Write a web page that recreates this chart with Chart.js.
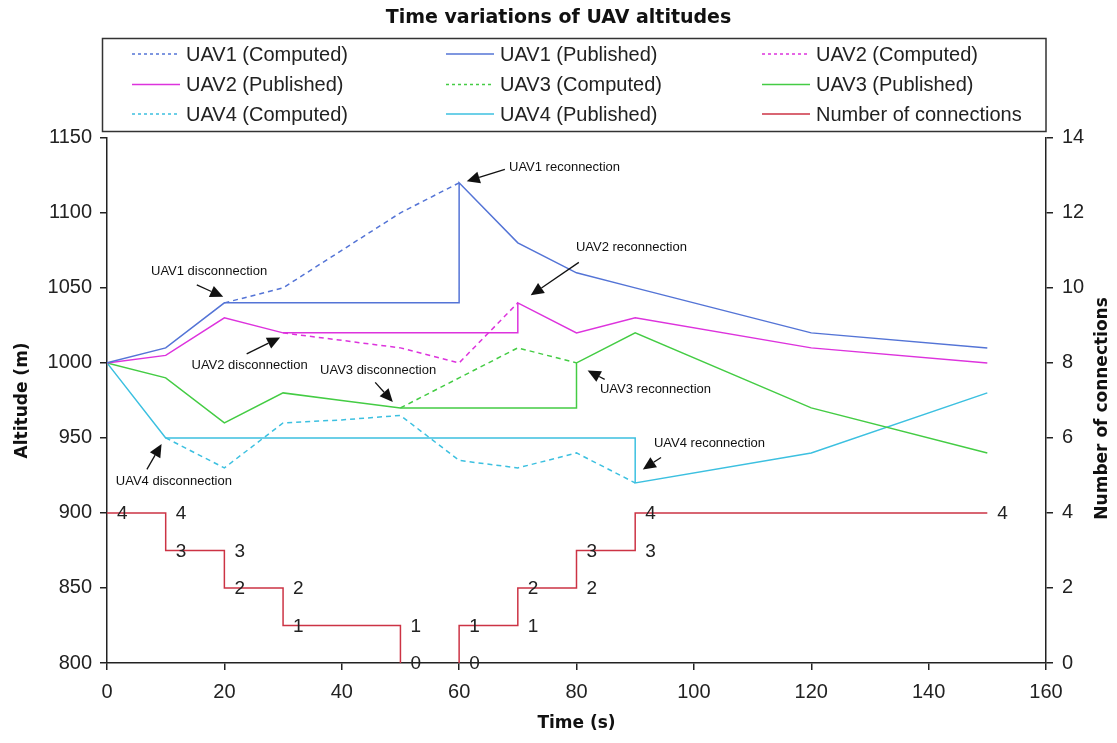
<!DOCTYPE html>
<html>
<head>
<meta charset="utf-8">
<script src="https://cdn.jsdelivr.net/npm/chart.js@4.4.0/dist/chart.umd.min.js"></script>
<style>
  html, body { margin: 0; padding: 0; background: #fff; }
</style>
</head>
<body>
<canvas id="uavChart" width="1117" height="743"></canvas>
<script>
// values: time (s) and altitude (m)
var uav1CompTime = [20, 30, 40, 50, 60];
var uav1CompAlt  = [1040, 1050, 1075, 1100, 1120];
var uav1PubTime  = [0, 10, 20, 60, 60, 70, 80, 90, 120, 150];
var uav1PubAlt   = [1000, 1010, 1040, 1040, 1120, 1080, 1060, 1050, 1020, 1010];

var uav2CompTime = [30, 40, 50, 60, 70];
var uav2CompAlt  = [1020, 1015, 1010, 1000, 1040];
var uav2PubTime  = [0, 10, 20, 30, 70, 70, 80, 90, 120, 150];
var uav2PubAlt   = [1000, 1005, 1030, 1020, 1020, 1040, 1020, 1030, 1010, 1000];

var uav3CompTime = [50, 60, 70, 80];
var uav3CompAlt  = [970, 990, 1010, 1000];
var uav3PubTime  = [0, 10, 20, 30, 40, 50, 80, 80, 90, 120, 150];
var uav3PubAlt   = [1000, 990, 960, 980, 975, 970, 970, 1000, 1020, 970, 940];

var uav4CompTime = [10, 20, 30, 40, 50, 60, 70, 80, 90];
var uav4CompAlt  = [950, 930, 960, 962, 965, 935, 930, 940, 920];
var uav4PubTime  = [0, 10, 90, 90, 120, 150];
var uav4PubAlt   = [1000, 950, 950, 920, 940, 980];

// number of connections (step line, gap while it is 0)
var connTime  = [0, 10, 10, 20, 20, 30, 30, 50, 50, 55, 60, 60, 70, 70, 80, 80, 90, 90, 150];
var connCount = [4, 4, 3, 3, 2, 2, 1, 1, 0, null, 0, 1, 1, 2, 2, 3, 3, 4, 4];

// axis ranges / ticks
var timeTicks = { min: 0, max: 160, step: 20 };
var altTicks  = { min: 800, max: 1150, step: 50 };
var connTicks = { min: 0, max: 14, step: 2 };

// annotations: label position and arrow (tail -> head), in data units
var notes = [
  { text: 'UAV1 disconnection', at: [7.5, 1061],  from: [15.3, 1052], to: [19.8, 1044] },
  { text: 'UAV1 reconnection',  at: [68.5, 1130], from: [67.8, 1129], to: [61.3, 1121] },
  { text: 'UAV2 reconnection',  at: [79.9, 1077], from: [80.4, 1067], to: [72.2, 1045] },
  { text: 'UAV2 disconnection', at: [14.4, 998],  from: [23.8, 1006], to: [29.5, 1017] },
  { text: 'UAV3 disconnection', at: [36.3, 995],  from: [45.7, 987],  to: [48.7, 974] },
  { text: 'UAV4 disconnection', at: [1.5, 921],   from: [6.8, 929],   to: [9.3, 946] },
  { text: 'UAV3 reconnection',  at: [84.0, 982],  from: [84.8, 989],  to: [81.9, 995] },
  { text: 'UAV4 reconnection',  at: [93.2, 946],  from: [94.4, 937],  to: [91.3, 929] }
];

var blue = '#5474d6', magenta = '#dd33dd', green = '#44cc44', cyan = '#3cc0e0', red = '#cc3344';
var ink = '#222';
var dash = [5, 4];

function pts(t, v) {
  return t.map(function (x, i) { return { x: x, y: v[i] }; });
}

function line(label, t, v, color, dashed, axis) {
  return {
    label: label,
    data: pts(t, v),
    borderColor: color,
    backgroundColor: color,
    borderWidth: 1.5,
    borderDash: dashed ? dash : [],
    pointRadius: 0,
    tension: 0,
    fill: false,
    yAxisID: axis || 'y'
  };
}

var datasets = [
  line('UAV1 (Computed)', uav1CompTime, uav1CompAlt, blue, true),
  line('UAV1 (Published)', uav1PubTime, uav1PubAlt, blue, false),
  line('UAV2 (Computed)', uav2CompTime, uav2CompAlt, magenta, true),
  line('UAV2 (Published)', uav2PubTime, uav2PubAlt, magenta, false),
  line('UAV3 (Computed)', uav3CompTime, uav3CompAlt, green, true),
  line('UAV3 (Published)', uav3PubTime, uav3PubAlt, green, false),
  line('UAV4 (Computed)', uav4CompTime, uav4CompAlt, cyan, true),
  line('UAV4 (Published)', uav4PubTime, uav4PubAlt, cyan, false),
  line('Number of connections', connTime, connCount, red, false, 'y1')
];

var tickFont = { family: 'Liberation Sans', size: 20 };
var titleFont = { family: 'DejaVu Sans', size: 17, weight: 'bold' };
var plain = function (v) { return String(v); };

// legend box, value labels on the step line, notes with arrows, right axis title
var extras = {
  id: 'extras',
  afterDatasetsDraw: function (chart) {
    var ctx = chart.ctx;
    var xs = chart.scales.x, ys = chart.scales.y;
    ctx.save();

    // connection counts next to each step point
    var connIdx = datasets.length - 1;
    var meta = chart.getDatasetMeta(connIdx);
    ctx.font = '19px "Liberation Sans"';
    ctx.fillStyle = ink;
    ctx.textAlign = 'left';
    ctx.textBaseline = 'middle';
    meta.data.forEach(function (el, i) {
      var v = connCount[i];
      if (v === null || v === undefined) return;
      ctx.fillText(String(v), el.x + 10, el.y + 1);
    });

    // annotations
    ctx.font = '13px "Liberation Sans"';
    ctx.fillStyle = '#111';
    ctx.strokeStyle = '#111';
    ctx.lineWidth = 1.3;
    notes.forEach(function (n) {
      ctx.fillText(n.text, xs.getPixelForValue(n.at[0]), ys.getPixelForValue(n.at[1]));
      var x1 = xs.getPixelForValue(n.from[0]), y1 = ys.getPixelForValue(n.from[1]);
      var x2 = xs.getPixelForValue(n.to[0]), y2 = ys.getPixelForValue(n.to[1]);
      var ang = Math.atan2(y2 - y1, x2 - x1);
      var hl = 13, hw = 6;
      var bx = x2 - hl * Math.cos(ang), by = y2 - hl * Math.sin(ang);
      ctx.beginPath();
      ctx.moveTo(x1, y1);
      ctx.lineTo(bx, by);
      ctx.stroke();
      ctx.beginPath();
      ctx.moveTo(x2, y2);
      ctx.lineTo(bx - hw * Math.sin(ang), by + hw * Math.cos(ang));
      ctx.lineTo(bx + hw * Math.sin(ang), by - hw * Math.cos(ang));
      ctx.closePath();
      ctx.fill();
    });
    ctx.restore();
  },
  afterDraw: function (chart) {
    var ctx = chart.ctx;
    var area = chart.chartArea;
    ctx.save();

    // legend frame
    var lx = 102.5, ly = 38.5, lw = area.right - 102.5, lh = 93;
    ctx.strokeStyle = '#333';
    ctx.lineWidth = 1.5;
    ctx.strokeRect(lx, ly, lw, lh);

    var cols = [132, 446, 762];
    var rows = [54, 84.5, 114];
    ctx.font = '20px "Liberation Sans"';
    ctx.textAlign = 'left';
    ctx.textBaseline = 'middle';
    chart.data.datasets.forEach(function (ds, i) {
      var cx = cols[i % 3], cy = rows[Math.floor(i / 3)];
      ctx.strokeStyle = ds.borderColor;
      ctx.lineWidth = 1.5;
      ctx.setLineDash(ds.borderDash && ds.borderDash.length ? [3, 3] : []);
      ctx.beginPath();
      ctx.moveTo(cx, cy);
      ctx.lineTo(cx + 48, cy);
      ctx.stroke();
      ctx.setLineDash([]);
      ctx.fillStyle = ink;
      ctx.fillText(ds.label, cx + 54, cy + 1);
    });

    // right axis title, reading bottom to top
    ctx.font = 'bold 17px "DejaVu Sans"';
    ctx.fillStyle = '#111';
    ctx.textAlign = 'center';
    ctx.translate(1103, (area.top + area.bottom) / 2 + 8);
    ctx.rotate(-Math.PI / 2);
    ctx.fillText('Number of connections', 0, 0);
    ctx.restore();
  }
};

new Chart(document.getElementById('uavChart').getContext('2d'), {
  type: 'line',
  data: { datasets: datasets },
  options: {
    responsive: false,
    animation: false,
    spanGaps: false,
    layout: { padding: 0 },
    plugins: {
      legend: { display: false },
      tooltip: { enabled: false },
      title: {
        display: true,
        text: 'Time variations of UAV altitudes',
        color: '#111',
        font: { family: 'DejaVu Sans', size: 19, weight: 'bold' },
        padding: { top: 7, bottom: 108 }
      }
    },
    scales: {
      x: {
        type: 'linear',
        min: timeTicks.min,
        max: timeTicks.max,
        ticks: { stepSize: timeTicks.step, color: ink, font: tickFont, padding: 10, maxRotation: 0, callback: plain },
        grid: { drawOnChartArea: false, tickLength: 7, color: ink, lineWidth: 1.5 },
        border: { display: true, color: ink, width: 1.5 },
        title: { display: true, text: 'Time (s)', color: '#111', font: titleFont, padding: { top: 4, bottom: 9 } },
        afterFit: function (s) { s.height = 80; }
      },
      y: {
        position: 'left',
        min: altTicks.min,
        max: altTicks.max,
        ticks: { stepSize: altTicks.step, color: ink, font: tickFont, padding: 8, callback: plain },
        grid: { drawOnChartArea: false, tickLength: 7, color: ink, lineWidth: 1.5 },
        border: { display: true, color: ink, width: 1.5 },
        title: { display: true, text: 'Altitude (m)', color: '#111', font: titleFont, padding: { top: 12, bottom: 4 } },
        afterFit: function (s) { s.width = 107; }
      },
      y1: {
        position: 'right',
        min: connTicks.min,
        max: connTicks.max,
        ticks: { stepSize: connTicks.step, color: ink, font: tickFont, padding: 9, callback: plain },
        grid: { drawOnChartArea: false, tickLength: 7, color: ink, lineWidth: 1.5 },
        border: { display: true, color: ink, width: 1.5 },
        title: { display: false },
        afterFit: function (s) { s.width = 71; }
      }
    }
  },
  plugins: [extras]
});
</script>
</body>
</html>
